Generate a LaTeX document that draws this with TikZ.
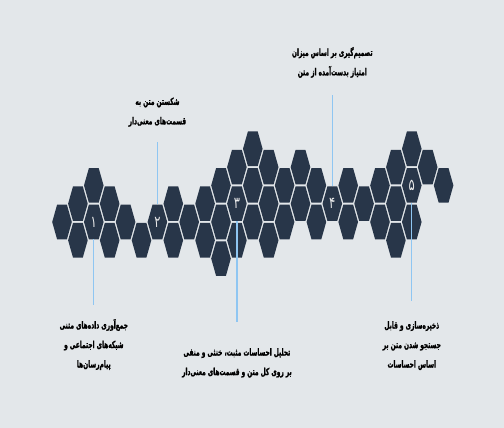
\documentclass[tikz,border=0pt]{standalone}
\usepackage{fontspec}
\usetikzlibrary{positioning}
\newfontfamily\farsinarrow[Script=Arabic,FakeStretch=0.72]{DejaVu Sans}
\newfontfamily\farsinote[Script=Arabic,FakeStretch=0.6,FakeBold=1.2]{DejaVu Sans}
\TeXXeTstate=1
\definecolor{hexnavy}{HTML}{283649}
\definecolor{pagegray}{HTML}{E3E7EA}
\definecolor{pinblue}{HTML}{8FC6F2}
\tikzset{
  pics/hexcell/.style={code={
    \fill[hexnavy] (-9.8,0) -- (-4.9,17.3) -- (4.9,17.3) -- (9.8,0)
      -- (4.9,-17.3) -- (-4.9,-17.3) -- cycle;}},
  hexnum/.style={minimum height=34.6pt,inner sep=0pt,text=white!92!black,
    font=\farsinarrow\fontsize{16}{16}\selectfont},
  pin/.style={draw=pinblue,line width=1.2pt},
  note/.style={align=center,text=black,inner sep=0pt,
    font=\farsinote\bfseries\fontsize{9.8}{19.5}\selectfont}
}

\begin{document}
\begin{tikzpicture}[x=1pt,y=1pt]
  \fill[pagegray] (-62,-206) rectangle (442,222);
  % honeycomb band, column/row on a 15.9 x 18.3 grid
  \foreach \c/\r in {0/0,1/1,1/-1,2/2,2/0,3/1,3/-1,4/0,5/-1,6/0,7/1,7/-1,
      8/0,9/1,9/-1,10/2,10/0,10/-2,11/3,11/1,11/-1,12/4,12/2,12/0,
      13/3,13/1,13/-1,14/2,14/0,15/3,15/1,16/2,16/0,17/1,18/2,18/0,
      19/1,20/2,20/0,21/3,21/1,21/-1,22/4,22/2,22/0,23/3,24/2}
    \pic at (\c*15.9,\r*18.3) {hexcell};
  \node[hexnum] (n1) at (2*15.9,0) {۱};
  \node[hexnum] (n2) at (6*15.9,0) {۲};
  \node[hexnum] (n3) at (11*15.9,18.3) {۳};
  \node[hexnum] (n4) at (17*15.9,18.3) {۴};
  \node[hexnum] (n5) at (22*15.9,36.6) {۵};
  \coordinate (e1) at (2*15.9,-83);
  \coordinate (e2) at (6*15.9,80);
  \coordinate (e3) at (11*15.9,-100);
  \coordinate (e4) at (17*15.9,127);
  \coordinate (e5) at (22*15.9,-79);
  \draw[pin] (n1.south) -- (e1);
  \draw[pin] (n2.north) -- (e2);
  \draw[pin] (n3.south) -- (e3);
  \draw[pin] (n4.north) -- (e4);
  \draw[pin] (n5.south) -- (e5);
  \node[note,below=14pt of e1] (t1) {\beginR جمع^^^^200cآوری داده^^^^200cهای متنی\endR\\
    \beginR شبکه^^^^200cهای اجتماعی و\endR\\\beginR پیام^^^^200cرسان^^^^200cها\endR};
  \node[note,above=15pt of e2] (t2) {\beginR شکستن متن به\endR\\
    \beginR قسمت^^^^200cهای معنی^^^^200cدار\endR};
  \node[note,below=26pt of e3] (t3) {\beginR تحلیل احساسات مثبت، خنثی و منفی\endR\\
    \beginR بر روی کل متن و قسمت^^^^200cهای معنی^^^^200cدار\endR};
  \node[note,above=17pt of e4] (t4) {\beginR تصمیم^^^^200cگیری بر اساس میزان\endR\\
    \beginR امتیاز بدست^^^^200cآمده از متن\endR};
  \node[note,below=20pt of e5] (t5) {\beginR ذخیره^^^^200cسازی و قابل\endR\\
    \beginR جستجو شدن متن بر\endR\\\beginR اساس احساسات\endR};
\end{tikzpicture}
\end{document}
